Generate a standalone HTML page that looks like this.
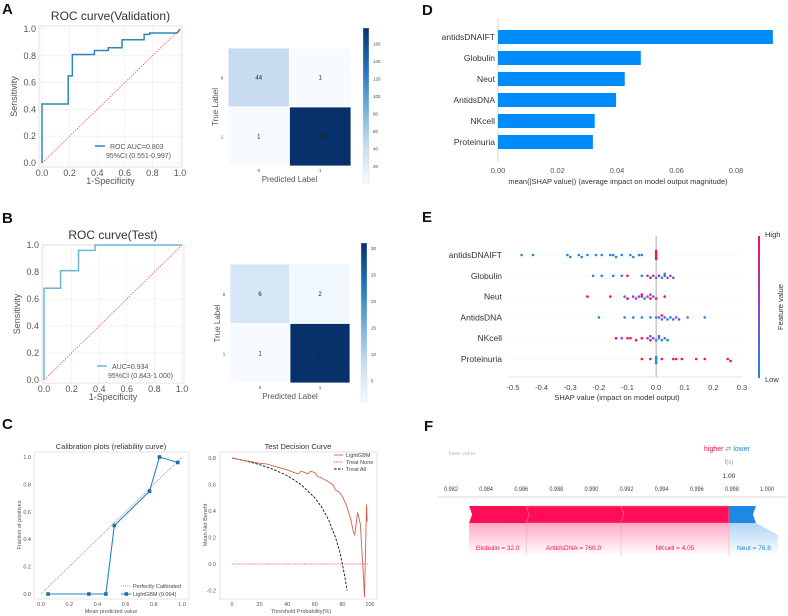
<!DOCTYPE html>
<html><head><meta charset="utf-8">
<style>
html,body{margin:0;padding:0;background:#fff}
svg{display:block;font-family:"Liberation Sans",Arial,sans-serif}
</style></head>
<body>
<svg id="fig" width="788" height="616" viewBox="0 0 788 616" xmlns="http://www.w3.org/2000/svg">
<defs>
<linearGradient id="blues" x1="0" y1="1" x2="0" y2="0">
<stop offset="0" stop-color="#f7fbff"/><stop offset="0.25" stop-color="#c6dbef"/><stop offset="0.5" stop-color="#6baed6"/><stop offset="0.75" stop-color="#2171b5"/><stop offset="1" stop-color="#08306b"/>
</linearGradient>
<linearGradient id="shapcb" x1="0" y1="1" x2="0" y2="0">
<stop offset="0" stop-color="#1e88e5"/><stop offset="0.5" stop-color="#8e44d8"/><stop offset="1" stop-color="#ff0d57"/>
</linearGradient>
<linearGradient id="pinkfade" x1="0" y1="0" x2="0" y2="1">
<stop offset="0" stop-color="#ff0d57" stop-opacity="0.35"/><stop offset="1" stop-color="#ff0d57" stop-opacity="0"/>
</linearGradient>
<linearGradient id="bluefade" x1="0" y1="0" x2="0" y2="1">
<stop offset="0" stop-color="#1e88e5" stop-opacity="0.35"/><stop offset="1" stop-color="#1e88e5" stop-opacity="0"/>
</linearGradient>
</defs>
<g font-weight="bold" font-size="15" fill="#111">
<text x="2" y="14">A</text>
<text x="2" y="223">B</text>
<text x="2" y="429">C</text>
<text x="422" y="15">D</text>
<text x="422" y="222">E</text>
<text x="424" y="431">F</text>
</g>
<g id="root"></g>
</svg>
<script>
// ===== DATA =====
const rocValFpr=[0,0,0.19,0.19,0.22,0.22,0.38,0.38,0.48,0.48,0.58,0.58,0.74,0.74,0.78,0.78,0.98,1];
const rocValTpr=[0,0.44,0.44,0.65,0.65,0.81,0.81,0.84,0.84,0.86,0.86,0.92,0.92,0.96,0.96,0.97,0.97,1];
const rocTestFpr=[0,0,0.12,0.12,0.25,0.25,0.37,0.37,1];
const rocTestTpr=[0,0.68,0.68,0.81,0.81,0.96,0.96,1,1];
const rocTicks=[0,0.2,0.4,0.6,0.8,1.0];
const cmVal=[44,1,1,178];
const cmTest=[6,2,1,31];
const cbValTicks=[20,40,60,80,100,120,140,160];
const cbTestTicks=[5,10,15,20,25,30];
const calX=[0.05,0.34,0.46,0.52,0.77,0.84,0.97];
const calY=[0,0,0,0.5,0.75,1.0,0.96];
const dcaT=[0,5,10,15,20,25,30,35,40,45,48,50,53,55,57,60,62,65,70,73,75,78,80,83,86,88,89,91,93,95,96,97.5,98];
const dcaModel=[0.8,0.79,0.78,0.77,0.76,0.755,0.74,0.725,0.71,0.69,0.68,0.70,0.69,0.68,0.70,0.69,0.66,0.65,0.62,0.60,0.56,0.54,0.51,0.44,0.34,0.24,0.22,0.39,0.30,-0.05,-0.25,0.45,0.32];
const dcaAllT=[0,10,20,30,40,50,60,65,70,75,78,80,82,83.3];
const dcaAll=[0.8,0.778,0.75,0.714,0.667,0.6,0.5,0.429,0.333,0.2,0.096,0.0,-0.111,-0.2];
const features=["antidsDNAIFT","Globulin","Neut","AntidsDNA","NKcell","Proteinuria"];
const meanShap=[0.0924,0.048,0.0426,0.0397,0.0325,0.0319];
const dTicks=[0,0.02,0.04,0.06,0.08];
const eTicks=[-0.5,-0.4,-0.3,-0.2,-0.1,0,0.1,0.2,0.3];
const shapRow=[0,0,0,0,0,0,0,0,0,0,0,0,0,0,0,0,0,0,0,0,0,0,
 1,1,1,1,1,1,1,1,1,1,1,1,1,1,1,1,1,
 2,2,2,2,2,2,2,2,2,2,2,2,2,2,2,2,
 3,3,3,3,3,3,3,3,3,3,3,3,3,3,3,3,3,
 4,4,4,4,4,4,4,4,4,4,4,4,4,4,4,4,
 5,5,5,5,5,5,5,5,5,5,5,5,5,5];
const shapVal=[-0.47,-0.43,-0.31,-0.30,-0.27,-0.26,-0.24,-0.21,-0.19,-0.16,-0.15,-0.14,-0.12,-0.09,-0.08,-0.06,-0.05,0,0,0,0,0,
 -0.22,-0.19,-0.15,-0.12,-0.10,-0.05,-0.03,-0.02,-0.01,0,0.01,0.02,0.03,0.04,0.05,0.06,0.03,
 -0.24,-0.16,-0.11,-0.10,-0.08,-0.07,-0.06,-0.05,-0.04,-0.03,-0.02,-0.01,0,-0.02,-0.05,0.03,
 -0.20,-0.11,-0.08,-0.05,-0.02,0,0.01,0.02,0.03,0.04,0.05,0.06,0.07,0.08,0.11,0.17,0.02,
 -0.14,-0.12,-0.10,-0.09,-0.07,-0.05,-0.03,-0.02,-0.01,0,0.01,0.02,0.03,0.04,0.01,-0.02,
 -0.05,-0.02,0.02,0.06,0.07,0.09,0.14,0.17,0.25,0.26,0,0,0,0];
const shapFeat=[0,0,0,0,0,0,0,0,0,0,0,0,0,0,0,0,0,1,1,1,1,1,
 0,0,0,0,1,0,0.5,1,0.5,0,1,0,0.5,0.5,0.5,0.5,0,
 1,1,0,1,0.5,0.5,0.5,0.5,0,0.5,1,0.5,1,0.5,1,1,
 0,0,0,0,0,0,0.5,0,0.5,0,0,0.5,0,0.5,0,0,1,
 1,0.5,1,1,1,1,0.5,1,0.5,0,0,0,0,0,0.5,0,
 1,1,1,1,1,1,1,1,1,1,0,0,0,0];
const fTicks=[0.982,0.984,0.986,0.988,0.990,0.992,0.994,0.996,0.998,1.000];
const fBase=0.98303;
const fNames=["Globulin = 32.0","AntidsDNA = 760.0","NKcell = 4.05"];
const fPos=[0.00325,0.0054,0.00615];
const fNegName="Neut  = 76.8";
const fNeg=0.00154;

// ===== HELPERS =====
const NS="http://www.w3.org/2000/svg";
const root=document.getElementById('root');
function el(tag,attrs,parent,txt){const e=document.createElementNS(NS,tag);for(const k in attrs)e.setAttribute(k,attrs[k]);if(txt!==undefined)e.textContent=txt;(parent||root).appendChild(e);return e;}
function lin(d0,d1,r0,r1){return v=>r0+(v-d0)/(d1-d0)*(r1-r0);}
function fmt(v,n){return v.toFixed(n);}

// ===== ROC =====
function roc(cfg){
 const x=lin(0,1,cfg.x0,cfg.x1),y=lin(0,1,cfg.y0,cfg.y1);
 const g=el('g',{});
 
 
 rocTicks.forEach(t=>{
  const gl=el('line',{x1:x(t),x2:x(t),y1:cfg.fy0,y2:cfg.fy1,stroke:'#ececec','stroke-width':0.6},g);
  
  const gh=el('line',{x1:cfg.fx0,x2:cfg.fx1,y1:y(t),y2:y(t),stroke:'#ececec','stroke-width':0.6},g);
  
  const tx=el('text',{x:x(t),y:cfg.fy1+9,'font-size':9,fill:'#555','text-anchor':'middle'},g,fmt(t,1));
  
  const ty=el('text',{x:cfg.fx0-3,y:y(t)+3,'font-size':9,fill:'#555','text-anchor':'end'},g,fmt(t,1));
  
 });
 const fr=el('rect',{x:cfg.fx0,y:cfg.fy0,width:cfg.fx1-cfg.fx0,height:cfg.fy1-cfg.fy0,fill:'none',stroke:'#ddd','stroke-width':0.8},g);
 
 const dl=el('line',{x1:x(0),y1:y(0),x2:x(1),y2:y(1),stroke:'#e8483c','stroke-width':0.7,'stroke-dasharray':'1.5,1.2'},g);
 
 const pts=cfg.fpr.map((f,i)=>x(f)+','+y(cfg.tpr[i])).join(' ');
 const pl=el('polyline',{points:pts,fill:'none',stroke:cfg.color,'stroke-width':1.5},g);
 
 const tt=el('text',{x:(cfg.fx0+cfg.fx1)/2,y:cfg.fy0-6,'font-size':12,fill:'#333','text-anchor':'middle'},g,cfg.title);
 
 const xl=el('text',{x:(cfg.fx0+cfg.fx1)/2,y:cfg.fy1+17,'font-size':9,fill:'#555','text-anchor':'middle'},g,'1-Specificity');
 
 const yl=el('text',{x:0,y:0,'font-size':9,fill:'#555','text-anchor':'middle',transform:`translate(${cfg.fx0-22},${(cfg.fy0+cfg.fy1)/2}) rotate(-90)`},g,'Sensitivity');
 
 const lg=el('line',{x1:cfg.lx,x2:cfg.lx+10,y1:cfg.ly-3,y2:cfg.ly-3,stroke:cfg.color,'stroke-width':1.5},g);
 
 const t1=el('text',{x:cfg.lx+15,y:cfg.ly,'font-size':7,fill:'#555'},g,cfg.leg1);
 
 const t2=el('text',{x:cfg.lx+11,y:cfg.ly+9,'font-size':7,fill:'#555'},g,cfg.leg2);
 
}
roc({name:'roc-validation',fpr:rocValFpr,tpr:rocValTpr,x0:42,x1:180,y0:163,y1:29,fx0:39,fx1:182,fy0:26,fy1:167,color:'#2f88b8',title:'ROC curve(Validation)',leg1:'ROC AUC=0.803',leg2:'95%CI (0.551-0.997)',lx:95,ly:149});
roc({name:'roc-test',fpr:rocTestFpr,tpr:rocTestTpr,x0:44,x1:182,y0:380,y1:245,fx0:42,fx1:184,fy0:245,fy1:383,color:'#6cb6d9',title:'ROC curve(Test)',leg1:'AUC=0.934',leg2:'95%CI (0.843-1.000)',lx:97,ly:369});

// ===== CONFUSION =====
function blues(t){const s=[[247,251,255],[198,219,239],[107,174,214],[33,113,181],[8,48,107]];const p=Math.min(Math.max(t,0),1)*4;const i=Math.min(Math.floor(p),3),f=p-i;return 'rgb('+s[i].map((c,k)=>Math.round(c+(s[i+1][k]-c)*f)).join(',')+')';}
function cm(cfg){
 const g=el('g',{});
 
 
 const mn=Math.min(...cfg.vals),mx=Math.max(...cfg.vals);
 const cw=(cfg.x1-cfg.x0)/2,ch=(cfg.y1-cfg.y0)/2;
 cfg.vals.forEach((v,i)=>{const r=Math.floor(i/2),c=i%2;
  const cell=el('rect',{x:cfg.x0+c*cw,y:cfg.y0+r*ch,width:cw,height:ch,fill:blues((v-mn)/(mx-mn)),stroke:'#fff','stroke-width':0.8},g);
  
  const t=el('text',{x:cfg.x0+c*cw+cw/2,y:cfg.y0+r*ch+ch/2+2,'font-size':6,fill:'#222','text-anchor':'middle'},g,String(v));
  
 });
 ['0','1'].forEach((l,i)=>{
  const a=el('text',{x:cfg.x0+cw*i+cw/2,y:cfg.y1+6,'font-size':4.5,fill:'#444','text-anchor':'middle'},g,l);
  
  const b=el('text',{x:cfg.x0-6,y:cfg.y0+ch*i+ch/2+2,'font-size':4.5,fill:'#444','text-anchor':'middle'},g,l);
  
 });
 const xl=el('text',{x:(cfg.x0+cfg.x1)/2,y:cfg.y1+16,'font-size':8,fill:'#555','text-anchor':'middle'},g,'Predicted Label');
 
 const yl=el('text',{x:0,y:0,'font-size':8,fill:'#555','text-anchor':'middle',transform:`translate(${cfg.x0-10},${(cfg.y0+cfg.y1)/2}) rotate(-90)`},g,'True Label');
 
 const cb=el('rect',{x:cfg.cbx,y:cfg.cby0,width:6,height:cfg.cby1-cfg.cby0,fill:'url(#blues)',stroke:'#ddd','stroke-width':0.4},g);
 
 const cy=lin(mn,mx,cfg.cby1,cfg.cby0);
 cfg.ticks.forEach(t=>{
  const tl=el('text',{x:cfg.cbx+10,y:cy(t)+1.5,'font-size':4.5,fill:'#444'},g,String(t));
  
 });
}
cm({name:'confusion-validation',vals:cmVal,x0:228,x1:351,y0:48,y1:166,cbx:363,cby0:28,cby1:183,ticks:cbValTicks});
cm({name:'confusion-test',vals:cmTest,x0:230,x1:350,y0:264,y1:383,cbx:361,cby0:243,cby1:402,ticks:cbTestTicks});

// ===== CALIBRATION =====
(function(){
 const g=el('g',{});
 
 
 const x=lin(0,1,41,182),y=lin(0,1,594,457);
 const fr=el('rect',{x:34,y:452,width:155,height:147,fill:'none',stroke:'#ddd','stroke-width':0.8},g);
 
 [0,0.2,0.4,0.6,0.8,1.0].forEach(t=>{
  const a=el('text',{x:x(t),y:606,'font-size':5.5,fill:'#555','text-anchor':'middle'},g,fmt(t,1));
  
  const b=el('text',{x:31,y:y(t)+2,'font-size':5.5,fill:'#555','text-anchor':'end'},g,fmt(t,1));
  
 });
 const d=el('line',{x1:x(0),y1:y(0),x2:x(1),y2:y(1),stroke:'#666','stroke-width':0.6,'stroke-dasharray':'1,1'},g);
 
 const pl=el('polyline',{points:calX.map((v,i)=>x(v)+','+y(calY[i])).join(' '),fill:'none',stroke:'#1f87bf','stroke-width':1.1},g);
 
 calX.forEach((v,i)=>{const m=el('rect',{x:x(v)-1.8,y:y(calY[i])-1.8,width:3.6,height:3.6,fill:'#1f6fa8'},g);
  });
 const t=el('text',{x:111,y:449,'font-size':7.5,fill:'#333','text-anchor':'middle'},g,'Calibration plots  (reliability curve)');
 
 const xl=el('text',{x:111,y:613,'font-size':5.5,fill:'#555','text-anchor':'middle'},g,'Mean predicted value');
 
 const yl=el('text',{x:0,y:0,'font-size':5.5,fill:'#555','text-anchor':'middle',transform:'translate(21,525) rotate(-90)'},g,'Fraction of positives');
 
 const l1=el('line',{x1:121,x2:131,y1:586,y2:586,stroke:'#555','stroke-width':0.6,'stroke-dasharray':'1,1'},g);
 
 const lt1=el('text',{x:133,y:588,'font-size':5.5,fill:'#444'},g,'Perfectly Calibrated');
 
 const l2=el('line',{x1:121,x2:131,y1:594,y2:594,stroke:'#1f87bf','stroke-width':1},g);
 
 const l2m=el('rect',{x:124.5,y:592.2,width:3.6,height:3.6,fill:'#1f6fa8'},g);
 
 const lt2=el('text',{x:133,y:596,'font-size':5.5,fill:'#444'},g,'LightGBM (0.064)');
 
})();

// ===== DECISION CURVE =====
(function(){
 const g=el('g',{});
 
 
 const x=lin(0,100,232,370),y=lin(0,0.8,564,458);
 const fr=el('rect',{x:220,y:452,width:157,height:147,fill:'none',stroke:'#ddd','stroke-width':0.8},g);
 
 const clip=el('clipPath',{id:'dcclip'},g);el('rect',{x:220,y:452,width:157,height:147},clip);
 [0,20,40,60,80,100].forEach(t=>{const a=el('text',{x:x(t),y:606,'font-size':5.5,fill:'#555','text-anchor':'middle'},g,String(t));
  });
 [-0.2,0,0.2,0.4,0.6,0.8].forEach(t=>{const a=el('text',{x:216,y:y(t)+2,'font-size':5.5,fill:'#555','text-anchor':'end'},g,fmt(t,1));
  });
 const n=el('line',{x1:x(0),x2:x(99),y1:y(0),y2:y(0),stroke:'#e8483c','stroke-width':0.8,'stroke-dasharray':'1,0.8'},g);
 
 const a=el('polyline',{points:dcaAllT.map((t,i)=>x(t)+','+y(dcaAll[i])).join(' '),fill:'none',stroke:'#111','stroke-width':0.9,'stroke-dasharray':'2.5,1.5','clip-path':'url(#dcclip)'},g);
 
 const m=el('polyline',{points:dcaT.map((t,i)=>x(t)+','+y(dcaModel[i])).join(' '),fill:'none',stroke:'#d9604a','stroke-width':0.9,'clip-path':'url(#dcclip)'},g);
 
 const t=el('text',{x:298,y:449,'font-size':7.5,fill:'#333','text-anchor':'middle'},g,'Test Decision Curve');
 
 const xl=el('text',{x:301,y:613,'font-size':5.5,fill:'#555','text-anchor':'middle'},g,'Threshold Probability(%)');
 
 const yl=el('text',{x:0,y:0,'font-size':5.5,fill:'#555','text-anchor':'middle',transform:'translate(207,525) rotate(-90)'},g,'Mean Net Benefit');
 
 const leg=[['LightGBM','#d9604a','none'],['Treat None','#e8483c','1,0.8'],['Treat All','#111','2.5,1.5']];
 leg.forEach((L,i)=>{const ly=455+i*7;
  const s=el('line',{x1:334,x2:343,y1:ly,y2:ly,stroke:L[1],'stroke-width':0.9,'stroke-dasharray':L[2]},g);
  
  const tx=el('text',{x:346,y:ly+2,'font-size':5.5,fill:'#444'},g,L[0]);
  });
})();

// ===== D: SHAP BAR =====
(function(){
 const g=el('g',{});
 
 
 const x=lin(0,0.08,498,736);
 const ax=el('line',{x1:498,x2:498,y1:18,y2:162,stroke:'#ccc','stroke-width':0.8},g);
 
 features.forEach((f,i)=>{const cy=37+i*21;
  const b=el('rect',{x:498,y:cy-7,width:x(meanShap[i])-498,height:14,fill:'#008bfb'},g);
  
  const l=el('text',{x:495,y:cy+3,'font-size':8.5,fill:'#333','text-anchor':'end'},g,f);
  });
 dTicks.forEach(t=>{const tx=el('text',{x:x(t),y:173,'font-size':7.5,fill:'#555','text-anchor':'middle'},g,fmt(t,2));
  });
 const xl=el('text',{x:618,y:184,'font-size':7.5,fill:'#333','text-anchor':'middle'},g,'mean(|SHAP value|) (average impact on model output magnitude)');
 
})();

// ===== E: SHAP BEESWARM =====
function shapColor(v){const a=[30,136,229],m=[142,68,216],b=[255,13,87];const s=v<0.5?a:m,e=v<0.5?m:b,f=v<0.5?v*2:(v-0.5)*2;return 'rgb('+s.map((c,k)=>Math.round(c+(e[k]-c)*f)).join(',')+')';}
(function(){
 const g=el('g',{});
 
 
 const x=lin(-0.5,0.3,513,742);
 features.forEach((f,i)=>{const cy=255+i*20.8;
  const gl=el('line',{x1:509,x2:742,y1:cy,y2:cy,stroke:'#eee','stroke-width':0.6,'stroke-dasharray':'1,1'},g);
  
  const l=el('text',{x:502,y:cy+3,'font-size':8.5,fill:'#333','text-anchor':'end'},g,f);
  });
 const z=el('line',{x1:x(0),x2:x(0),y1:236,y2:377,stroke:'#999','stroke-width':0.8},g);
 
 const cnt={};
 shapVal.forEach((v,i)=>{const r=shapRow[i];const key=r+'_'+Math.round(v*50);cnt[key]=(cnt[key]||0)+1;const k=cnt[key]-1;
  const off=(k%2?1:-1)*Math.ceil(k/2)*2;
  const d=el('circle',{cx:x(v),cy:255+r*20.8+off,r:1.3,fill:shapColor(shapFeat[i])},g);
  });
 const ax=el('line',{x1:509,x2:742,y1:377,y2:377,stroke:'#ccc','stroke-width':0.6},g);
 
 eTicks.forEach(t=>{const tx=el('text',{x:x(t),y:390,'font-size':7.5,fill:'#444','text-anchor':'middle'},g,fmt(t,1));
  });
 const xl=el('text',{x:617,y:400,'font-size':7.5,fill:'#333','text-anchor':'middle'},g,'SHAP value (impact on model output)');
 
 const cb=el('rect',{x:758,y:236,width:2,height:142,fill:'url(#shapcb)'},g);
 
 const hi=el('text',{x:765,y:237,'font-size':7.5,fill:'#333'},g,'High');
 
 const lo=el('text',{x:765,y:382,'font-size':7.5,fill:'#333'},g,'Low');
 
 const fv=el('text',{x:0,y:0,'font-size':7.5,fill:'#333','text-anchor':'middle',transform:'translate(783,307) rotate(-90)'},g,'Feature value');
 
})();

// ===== F: FORCE PLOT =====
(function(){
 const g=el('g',{});
 
 
 const x=lin(0.982,1.0,451,767);
 const ax=el('line',{x1:437,x2:787,y1:497,y2:497,stroke:'#ccc','stroke-width':0.8},g);
 
 fTicks.forEach(t=>{const tx=el('text',{x:x(t),y:491,'font-size':6.5,fill:'#444','text-anchor':'middle',transform:`translate(${x(t)},0) scale(0.85,1) translate(${-x(t)},0)`},g,fmt(t,3));
  });
 const bv=el('text',{x:462,y:455,'font-size':5.5,fill:'#bbb','text-anchor':'middle'},g,'base value');
 
 let cur=fBase;
 fPos.forEach((w,i)=>{const a=x(cur),b=x(cur+w);
  const fd=el('rect',{x:a,y:523,width:b-a,height:32,fill:'url(#pinkfade)'},g);
  
  const tip=i===fPos.length-1?0:3;
  const p=el('path',{d:`M${a},506 L${b},506 L${b+tip},514.5 L${b},523 L${a},523 L${a+3},514.5 Z`,fill:'#ff0d57',stroke:i?'#ff8fb0':'none','stroke-width':0.5},g);
  
  const sep=el('line',{x1:b,x2:b,y1:523,y2:556,stroke:'#ffb3c8','stroke-width':0.6},g);
  
  const t=el('text',{x:(a+b)/2,y:550,'font-size':6.5,fill:'#ff0d57','text-anchor':'middle'},g,fNames[i]);
  
  cur+=w;});
 const fx=x(cur);const nb=x(cur+fNeg);
 const fdb=el('path',{d:`M${fx},523 L${nb},523 L${nb+22},535 L${nb+22},556 L${fx},556 Z`,fill:'url(#bluefade)'},g);
 
 const nbar=el('path',{d:`M${fx},506 L${nb},506 L${nb-3},514.5 L${nb},523 L${fx},523 Z`,fill:'#1e88e5'},g);
 
 const nt=el('text',{x:754,y:550,'font-size':6.5,fill:'#1e88e5','text-anchor':'middle'},g,fNegName);
 
 const h=el('text',{x:727,y:451,'font-size':7,'text-anchor':'middle'},g);
 
 el('tspan',{fill:'#ff0d57'},h,'higher ');el('tspan',{fill:'#888'},h,'⇄ ');el('tspan',{fill:'#1e88e5'},h,'lower');
 const f1=el('text',{x:fx,y:464,'font-size':6,fill:'#999','text-anchor':'middle'},g,'f(x)');
 
 const f2=el('text',{x:fx,y:478,'font-size':6.5,fill:'#333','text-anchor':'middle'},g,'1.00');
 
})();
</script>
</body></html>
